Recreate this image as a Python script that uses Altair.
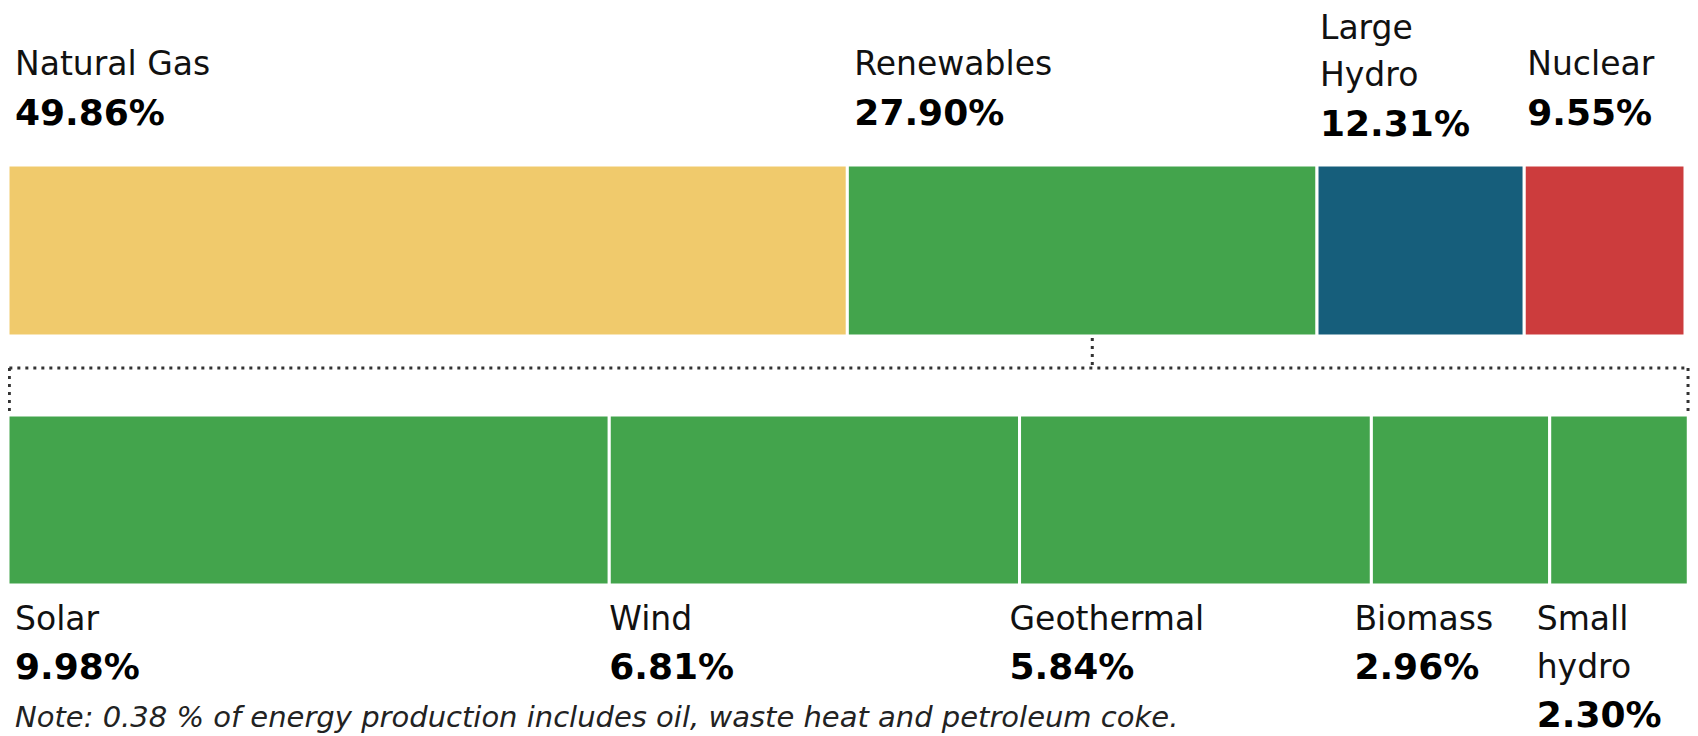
import altair as alt
import pandas as pd

# ---------------- data ----------------
top_categories = ["Natural Gas", "Renewables", "Large\nHydro", "Nuclear"]
top_values = [49.86, 27.90, 12.31, 9.55]
top_colors = ["#F0CA6C", "#43A44C", "#165E7B", "#CC3C3D"]

sub_categories = ["Solar", "Wind", "Geothermal", "Biomass", "Small\nhydro"]
sub_values = [9.98, 6.81, 5.84, 2.96, 2.30]
sub_colors = ["#43A44C"] * 5

note_text = "Note: 0.38 % of energy production includes oil, waste heat and petroleum coke."

# ---------------- layout (pixels / scale units) ----------------
W, H = 1682, 728
PX = 16.834               # pixels per percent unit
X_MAX = W / PX            # x-domain upper bound (percent units)
BOTTOM_SPAN = 99.85       # width (in x units) of the expanded renewables bar
BRACKET_RIGHT = 99.8

TOP_Y0, TOP_Y1 = 157, 328
BOT_Y0, BOT_Y1 = 407, 577
BRACKET_Y = 360
BRACKET_TOP = 330
BRACKET_BOTTOM = 403

TOP_LABEL_Y, TOP_LH, TOP_EXTRA = 57, 47, 11
TOP_VALUE_Y, TOP_VEXTRA = 106, 11
BOT_LABEL_Y, BOT_LH = 612, 48

TOP_NUDGE = {"Natural Gas": 7, "Renewables": 7, "Large\nHydro": 3, "Nuclear": 3}
BOT_NUDGE = {"Solar": 7, "Wind": 0, "Geothermal": -10, "Biomass": -17, "Small\nhydro": -13}

FONT = "DejaVu Sans"
LABEL_SIZE = 33
VALUE_SIZE = 36

# ---------------- tables ----------------
top_df = pd.DataFrame({"cat": top_categories, "val": top_values, "color": top_colors})
top_df["x1"] = top_df["val"].cumsum()
top_df["x0"] = top_df["x1"] - top_df["val"]
top_df["y0"] = TOP_Y0
top_df["y1"] = TOP_Y1

ren_total = top_values[top_categories.index("Renewables")]
sub_df = pd.DataFrame({"cat": sub_categories, "val": sub_values, "color": sub_colors})
cum = sub_df["val"].cumsum()
sub_df["x1"] = cum / ren_total * BOTTOM_SPAN
sub_df["x0"] = (cum - sub_df["val"]) / ren_total * BOTTOM_SPAN
sub_df["y0"] = BOT_Y0
sub_df["y1"] = BOT_Y1

bars_df = pd.concat([top_df, sub_df], ignore_index=True)

label_rows, value_rows = [], []
for _, r in top_df.iterrows():
    lines = r["cat"].split("\n")
    n = len(lines)
    xl = r["x0"] + TOP_NUDGE[r["cat"]] / PX
    last = TOP_LABEL_Y + TOP_EXTRA * (n - 1)
    for i, ln in enumerate(lines):
        label_rows.append({"x": xl, "y": last - (n - 1 - i) * TOP_LH, "text": ln})
    value_rows.append({"x": xl, "y": TOP_VALUE_Y + TOP_VEXTRA * (n - 1), "text": f"{r['val']:.2f}%"})

for _, r in sub_df.iterrows():
    lines = r["cat"].split("\n")
    n = len(lines)
    xl = r["x0"] + BOT_NUDGE[r["cat"]] / PX
    for i, ln in enumerate(lines):
        label_rows.append({"x": xl, "y": BOT_LABEL_Y + i * BOT_LH, "text": ln})
    value_rows.append({"x": xl, "y": BOT_LABEL_Y + n * BOT_LH, "text": f"{r['val']:.2f}%"})

labels_df = pd.DataFrame(label_rows)
values_df = pd.DataFrame(value_rows)

ren = top_df[top_df["cat"] == "Renewables"].iloc[0]
ren_mid = (ren["x0"] + ren["x1"]) / 2 + 0.6
hrule_df = pd.DataFrame({"x": [0.08], "x2": [BRACKET_RIGHT], "y": [BRACKET_Y]})
vrule_df = pd.DataFrame({
    "x": [ren_mid, 0.08, BRACKET_RIGHT],
    "y": [BRACKET_TOP, BRACKET_Y, BRACKET_Y],
    "y2": [BRACKET_Y, BRACKET_BOTTOM, BRACKET_BOTTOM],
})

xs = alt.Scale(domain=[0, X_MAX], nice=False, zero=False)
ys = alt.Scale(domain=[0, H], nice=False, zero=False, reverse=True)
X = lambda f: alt.X(f, type="quantitative", scale=xs, axis=None)
Y = lambda f: alt.Y(f, type="quantitative", scale=ys, axis=None)

bars = alt.Chart(bars_df).mark_rect(stroke="white", strokeWidth=3).encode(
    x=X("x0"), x2="x1", y=Y("y0"), y2="y1",
    color=alt.Color("color:N", scale=None),
)

dash = dict(color="#333333", strokeWidth=3, strokeDash=[3, 5])
hrule = alt.Chart(hrule_df).mark_rule(**dash).encode(x=X("x"), x2="x2", y=Y("y"))
vrule = alt.Chart(vrule_df).mark_rule(**dash).encode(x=X("x"), y=Y("y"), y2="y2")

labels = alt.Chart(labels_df).mark_text(
    align="left", baseline="middle", font=FONT, fontSize=LABEL_SIZE, color="#111"
).encode(x=X("x"), y=Y("y"), text="text:N")

values = alt.Chart(values_df).mark_text(
    align="left", baseline="middle", font=FONT, fontSize=VALUE_SIZE, fontWeight="bold", color="#000"
).encode(x=X("x"), y=Y("y"), text="text:N")

note = alt.Chart(pd.DataFrame({"text": [note_text]})).mark_text(
    align="left", baseline="middle", font=FONT, fontSize=29, fontStyle="italic", color="#222"
).encode(x=alt.value(7), y=alt.value(710), text="text:N")

chart = alt.layer(bars, hrule, vrule, labels, values, note).properties(
    width=W, height=H, padding=0, autosize=alt.AutoSizeParams(type="none")
).configure_view(stroke=None)

chart.save("out.html", embed_options={"renderer": "svg", "actions": False})
